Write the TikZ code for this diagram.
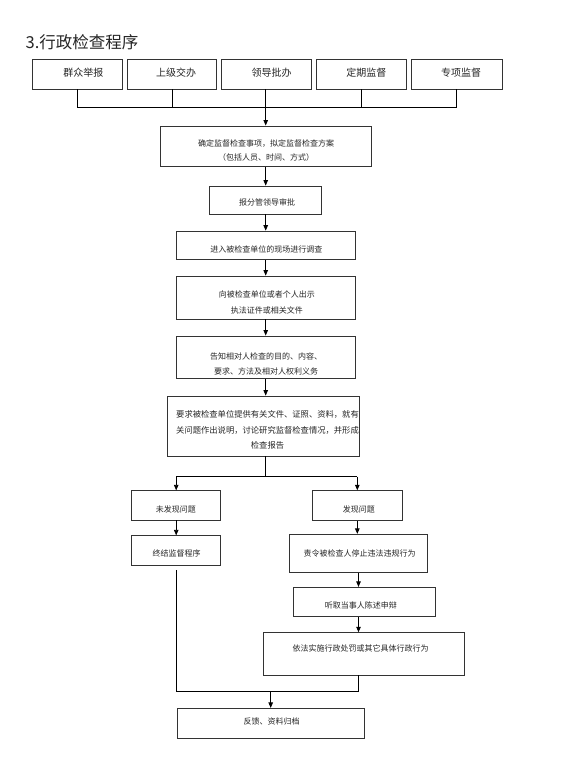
\documentclass[tikz,border=0pt]{standalone}
\usepackage{fontspec}
\setmainfont{Noto Sans CJK SC}
\usetikzlibrary{arrows.meta,calc}
\begin{document}
\begin{tikzpicture}[x=1pt,y=-1pt,
  box/.style={draw=black!80,line width=0.8pt,inner sep=0pt},
  txt/.style={inner sep=0pt,text=black!85,align=center,font=\fontsize{8}{15}\selectfont},
  toptxt/.style={inner sep=0pt,text=black!85,font=\fontsize{10}{12}\selectfont},
  ln/.style={draw=black,line width=0.8pt},
  arr/.style={ln,-{Triangle[length=5.5pt,width=4.5pt]}}]
\fill[white] (0,0) rectangle (562,765);
\useasboundingbox (0,0) rectangle (562,765);
% title
\node[anchor=west,inner sep=0pt,text=black!85,font=\fontsize{16.5}{20}\selectfont] (title) at (25.5,42) {3.行政检查程序};
% top row
\node[box,minimum width=90pt,minimum height=29.7pt] (B1) at (77.3,74.2) {};
\node[box,minimum width=89.7pt,minimum height=29.7pt] (B2) at (171.9,74.2) {};
\node[box,minimum width=90pt,minimum height=29.7pt] (B3) at (266.2,74.2) {};
\node[box,minimum width=89.3pt,minimum height=29.7pt] (B4) at (361.3,74.2) {};
\node[box,minimum width=90.3pt,minimum height=29.7pt] (B5) at (456.8,74.2) {};
\node[toptxt] (B1t) at (83.3,72.8) {群众举报};
\node[toptxt] (B2t) at (176,72.8) {上级交办};
\node[toptxt] (B3t) at (271.5,72.8) {领导批办};
\node[toptxt] (B4t) at (366.3,72.8) {定期监督};
\node[toptxt] (B5t) at (461,72.8) {专项监督};
\coordinate (hub) at (265.7,107.3);
% main column
\node[box,minimum width=211.7pt,minimum height=40.7pt] (Q1) at (265.8,146.3) {};
\node[txt,font=\fontsize{8}{14.4}\selectfont] (Q1t) at (266,150.5) {确定监督检查事项，拟定监督检查方案\\（包括人员、时间、方式）};
\node[box,minimum width=112.4pt,minimum height=28pt] (Q2) at (265.5,200) {};
\node[txt] (Q2t) at (267,202) {报分管领导审批};
\node[box,minimum width=179pt,minimum height=28.3pt] (Q3) at (265.5,245.2) {};
\node[txt] (Q3t) at (266.3,249) {进入被检查单位的现场进行调查};
\node[box,minimum width=179pt,minimum height=43pt] (Q4) at (265.5,297.5) {};
\node[txt,font=\fontsize{8}{16}\selectfont] (Q4t) at (266.8,302) {向被检查单位或者个人出示\\执法证件或相关文件};
\node[box,minimum width=179pt,minimum height=42.7pt] (Q5) at (265.5,357.3) {};
\node[txt] (Q5t) at (266.2,363.5) {告知相对人检查的目的、内容、\\要求、方法及相对人权利义务};
\node[box,minimum width=191.6pt,minimum height=60pt] (Q6) at (263.5,426) {};
\node[txt,font=\fontsize{8.3}{15.8}\selectfont] (Q6t) at (267.5,430) {要求被检查单位提供有关文件、证照、资料，就有\\关问题作出说明，讨论研究监督检查情况，并形成\\检查报告};
\coordinate (sp) at (265.7,476.7);
% left branch
\node[box,minimum width=89pt,minimum height=29.3pt] (N1) at (176.2,505.4) {};
\node[txt] (N1t) at (175.8,509) {未发现问题};
\node[box,minimum width=89pt,minimum height=29.3pt] (N2) at (176.2,550.4) {};
\node[txt] (N2t) at (176.7,553.3) {终结监督程序};
% right branch
\node[box,minimum width=90pt,minimum height=30pt] (Y1) at (357.3,505.7) {};
\node[txt] (Y1t) at (358.8,509) {发现问题};
\node[box,minimum width=138.4pt,minimum height=38pt] (Y2) at (358.5,553.3) {};
\node[txt] (Y2t) at (359.5,553.3) {责令被检查人停止违法违规行为};
\node[box,minimum width=142.4pt,minimum height=29.4pt] (Y3) at (364.5,602) {};
\node[txt] (Y3t) at (360.8,605.7) {听取当事人陈述申辩};
\node[box,minimum width=201pt,minimum height=42.3pt] (Y4) at (363.8,653.8) {};
\node[txt] (Y4t) at (360.5,648.3) {依法实施行政处罚或其它具体行政行为};
\coordinate (mg) at (270.7,691.7);
% final
\node[box,minimum width=186.7pt,minimum height=30pt] (F) at (270.7,723.3) {};
\node[txt] (Ft) at (271.7,721.7) {反馈、资料归档};
% connectors: top
\foreach \b in {B1,B2,B4,B5} \draw[ln] (\b.south) -- (\b.south |- hub);
\draw[ln] (B1.south |- hub) -- (B5.south |- hub);
\draw[arr] (hub |- B3.south) -- (hub |- Q1.north);
\draw[arr] (hub |- Q1.south) -- (hub |- Q2.north);
\draw[arr] (hub |- Q2.south) -- (hub |- Q3.north);
\draw[arr] (hub |- Q3.south) -- (hub |- Q4.north);
\draw[arr] (hub |- Q4.south) -- (hub |- Q5.north);
\draw[arr] (hub |- Q5.south) -- (hub |- Q6.north);
\draw[ln] (sp |- Q6.south) -- (sp);
\draw[ln] (N1.north |- sp) -- (Y1.north |- sp);
\draw[arr] (N1.north |- sp) -- (N1.north);
\draw[arr] (Y1.north |- sp) -- (Y1.north);
\draw[arr] (N1.south) -- (N2.north);
\draw[arr] (Y1.south) -- (Y1.south |- Y2.north);
\draw[arr] (Y2.south) -- (Y2.south |- Y3.north);
\draw[arr] (Y2.south |- Y3.south) -- (Y2.south |- Y4.north);
\draw[ln,shorten <=5pt] (N2.south) -- (N2.south |- mg) -- (Y2.south |- mg) -- (Y2.south |- Y4.south);
\draw[arr] (mg) -- (mg |- F.north);
\end{tikzpicture}
\end{document}
